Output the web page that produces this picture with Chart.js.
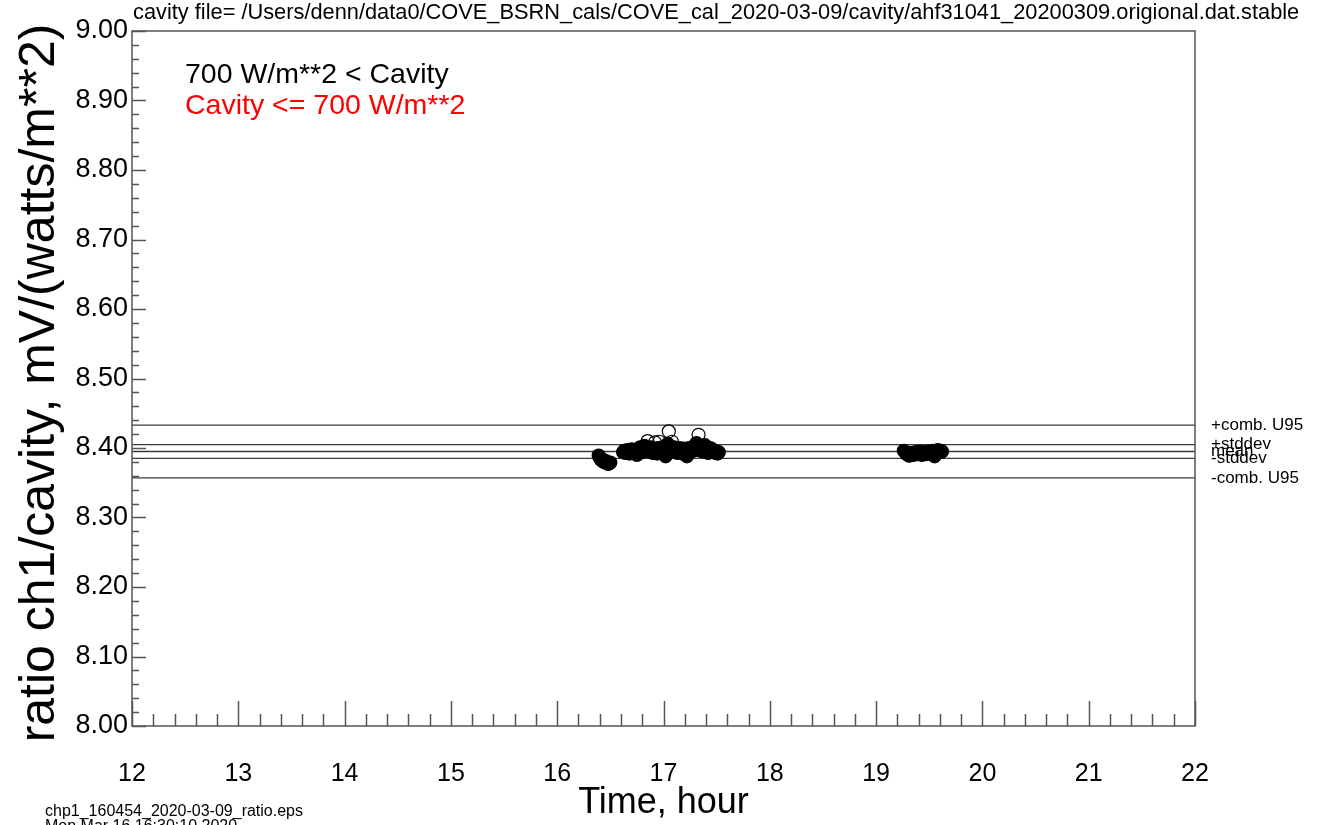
<!DOCTYPE html>
<html lang="en">
<head>
	<meta charset="utf-8">
	<script src="https://cdn.jsdelivr.net/npm/chart.js@4.4.1/dist/chart.umd.min.js"></script>
	<title>ratio ch1/cavity</title>
	<style>
		html, body { margin: 0; padding: 0; background: #fff; }
		#wrap { width: 1331px; height: 825px; }
	</style>
</head>
<body>
<div id="wrap"><canvas id="myChart" width="1331" height="825"></canvas></div>
<script>
const FONT = '"Liberation Sans", Arial, Helvetica, sans-serif';
const titleText = 'cavity file= /Users/denn/data0/COVE_BSRN_cals/COVE_cal_2020-03-09/cavity/ahf31041_20200309.origional.dat.stable';
const footText = ['chp1_160454_2020-03-09_ratio.eps', 'Mon Mar 16 16:30:10 2020'];
const legendLabels = ['700 W/m**2 < Cavity', 'Cavity <= 700 W/m**2'];

// reference lines
const refNames = ['+comb. U95', '+stddev', 'mean', '-stddev', '-comb. U95'];
const refValues = [8.433, 8.405, 8.395, 8.385, 8.357];

// hours, ratio (cavity > 700 W/m**2)
const hours = [
	16.39, 16.40, 16.41, 16.42, 16.43, 16.44, 16.45, 16.46, 16.47, 16.48, 16.49, 16.50,
	16.62, 16.63, 16.64, 16.65, 16.66, 16.67, 16.68, 16.69, 16.70, 16.71, 16.72, 16.73,
	16.74, 16.75, 16.76, 16.77, 16.78, 16.79, 16.80, 16.81, 16.82, 16.83, 16.84, 16.85,
	16.86, 16.87, 16.88, 16.89, 16.90, 16.91, 16.92, 16.93, 16.94, 16.95, 16.96, 16.97,
	16.98, 16.99, 17.00, 17.01, 17.02, 17.03, 17.04, 17.05, 17.06, 17.07, 17.08, 17.09,
	17.10, 17.11, 17.12, 17.13, 17.14, 17.15, 17.16, 17.17, 17.18, 17.19, 17.20, 17.21,
	17.22, 17.23, 17.24, 17.25, 17.26, 17.27, 17.28, 17.29, 17.30, 17.31, 17.32, 17.33,
	17.34, 17.35, 17.36, 17.37, 17.38, 17.39, 17.40, 17.41, 17.42, 17.43, 17.44, 17.45,
	17.46, 17.47, 17.48, 17.49, 17.50, 17.51, 17.52,
	19.26, 19.27, 19.28, 19.29, 19.30, 19.31, 19.32, 19.33, 19.34, 19.35, 19.36, 19.37,
	19.38, 19.39, 19.40, 19.41, 19.42, 19.43, 19.44, 19.45, 19.46, 19.47, 19.48, 19.49,
	19.50, 19.51, 19.52, 19.53, 19.54, 19.55, 19.56, 19.57, 19.58, 19.59, 19.60, 19.61, 19.62
];
const ratios = [
	8.389, 8.386, 8.383, 8.384, 8.381, 8.380, 8.379, 8.381, 8.378, 8.377, 8.378, 8.379,
	8.394, 8.396, 8.393, 8.395, 8.397, 8.394, 8.392, 8.396, 8.398, 8.395, 8.393, 8.397,
	8.396, 8.390, 8.395, 8.399, 8.401, 8.397, 8.394, 8.398, 8.403, 8.400, 8.396, 8.410,
	8.399, 8.395, 8.401, 8.397, 8.393, 8.399, 8.408, 8.396, 8.392, 8.400, 8.409, 8.398,
	8.394, 8.401, 8.397, 8.393, 8.388, 8.399, 8.406, 8.424, 8.402, 8.398, 8.409, 8.396,
	8.401, 8.395, 8.398, 8.393, 8.397, 8.400, 8.394, 8.396, 8.392, 8.399, 8.395, 8.391,
	8.388, 8.396, 8.400, 8.394, 8.397, 8.401, 8.396, 8.403, 8.398, 8.407, 8.401, 8.419,
	8.399, 8.396, 8.402, 8.398, 8.395, 8.404, 8.399, 8.396, 8.393, 8.397, 8.400, 8.395,
	8.398, 8.394, 8.396, 8.393, 8.395, 8.392, 8.394,
	8.396, 8.395, 8.393, 8.391, 8.392, 8.389, 8.391, 8.393, 8.392, 8.390, 8.392, 8.394,
	8.392, 8.391, 8.393, 8.395, 8.392, 8.390, 8.392, 8.394, 8.393, 8.391, 8.393, 8.395,
	8.393, 8.392, 8.394, 8.396, 8.394, 8.388, 8.393, 8.395, 8.397, 8.396, 8.394, 8.396, 8.395
];
// cavity <= 700 W/m**2 : no points in this file
const lowHours = [];
const lowRatios = [];

const xMin = 12, xMax = 22, yMin = 8, yMax = 9;

const pts = hours.map((h, i) => ({x: h, y: ratios[i]}));
const lowPts = lowHours.map((h, i) => ({x: h, y: lowRatios[i]}));

const refSets = refValues.map((v, i) => ({
	type: 'line',
	label: refNames[i],
	data: [{x: xMin, y: v}, {x: xMax, y: v}],
	borderColor: '#3a3a3a',
	borderWidth: 1.3,
	pointRadius: 0,
	order: 2
}));

// dense core looks solid in the original, stray high points stay open
function coreFill(col) {
	return c => {
		const p = c.raw;
		if (!p) return 'rgba(0,0,0,0)';
		return (p.y < refValues[1] + 0.003 && p.y > refValues[4]) ? col : 'rgba(0,0,0,0)';
	};
}

// axes box, inward ticks and loose texts
const decor = {
	id: 'decor',
	afterDraw(chart) {
		const c = chart.ctx, a = chart.chartArea;
		const xs = chart.scales.x, ys = chart.scales.y;
		c.save();
		c.strokeStyle = '#555';
		c.lineWidth = 1.5;
		c.strokeRect(a.left, a.top, a.right - a.left, a.bottom - a.top);
		c.beginPath();
		for (let i = 0; i <= 50; i++) {
			const v = xMin + i * 0.2;
			const px = Math.round(xs.getPixelForValue(v)) + 0.5;
			const len = (i % 5 == 0) ? 25 : 12;
			c.moveTo(px, a.bottom);
			c.lineTo(px, a.bottom - len);
		}
		for (let i = 0; i <= 50; i++) {
			const v = yMin + i * 0.02;
			const py = Math.round(ys.getPixelForValue(v)) + 0.5;
			const len = (i % 5 == 0) ? 14 : 7;
			c.moveTo(a.left, py);
			c.lineTo(a.left + len, py);
		}
		c.stroke();

		c.fillStyle = '#000';
		c.textBaseline = 'middle';
		c.textAlign = 'left';
		c.font = '21.8px ' + FONT;
		c.fillText(titleText, 133, 13);

		c.font = '28.5px ' + FONT;
		c.fillText(legendLabels[0], 185, 75);
		c.fillStyle = '#ff0000';
		c.fillText(legendLabels[1], 185, 106);

		c.fillStyle = '#000';
		c.font = '17px ' + FONT;
		refValues.forEach((v, i) => {
			c.fillText(refNames[i], a.right + 16, ys.getPixelForValue(v));
		});

		c.font = '16px ' + FONT;
		c.fillText(footText[0], 45, 812);
		c.fillText(footText[1], 45, 827);

		c.textAlign = 'center';
		c.font = '36px ' + FONT;
		c.fillText('Time, hour', (a.left + a.right) / 2, 803);

		c.translate(40, 383);
		c.rotate(-Math.PI / 2);
		c.font = '50px ' + FONT;
		c.fillText('ratio ch1/cavity, mV/(watts/m**2)', 0, 0);
		c.restore();
	}
};

const ctx = document.getElementById('myChart');
const C = new Chart(ctx, {
	type: 'scatter',
	data: {
		datasets: [{
			label: legendLabels[0],
			data: pts,
			pointStyle: 'circle',
			pointRadius: 6.5,
			pointBorderWidth: 1.2,
			pointBorderColor: '#000',
			pointBackgroundColor: coreFill('#000'),
			order: 1
		}, {
			label: legendLabels[1],
			data: lowPts,
			pointRadius: 6.5,
			pointBorderWidth: 1.2,
			pointBorderColor: '#ff0000',
			pointBackgroundColor: coreFill('#ff0000'),
			order: 1
		}].concat(refSets)
	},
	options: {
		responsive: false,
		animation: false,
		events: [],
		layout: { padding: { left: 0, right: 136, top: 31, bottom: 0 } },
		plugins: { legend: { display: false }, tooltip: { enabled: false } },
		scales: {
			x: {
				type: 'linear', min: xMin, max: xMax,
				grid: { display: false }, border: { display: false },
				ticks: { stepSize: 1, color: '#000', padding: 25, font: { size: 25, family: FONT }, maxRotation: 0 },
				afterFit: s => { s.height = 99; }
			},
			y: {
				min: yMin, max: yMax,
				grid: { display: false }, border: { display: false },
				ticks: { stepSize: 0.1, color: '#000', padding: -4, font: { size: 27, family: FONT },
					callback: v => v.toFixed(2) },
				afterFit: s => { s.width = 132; }
			}
		}
	},
	plugins: [decor]
});
</script>
</body>
</html>
